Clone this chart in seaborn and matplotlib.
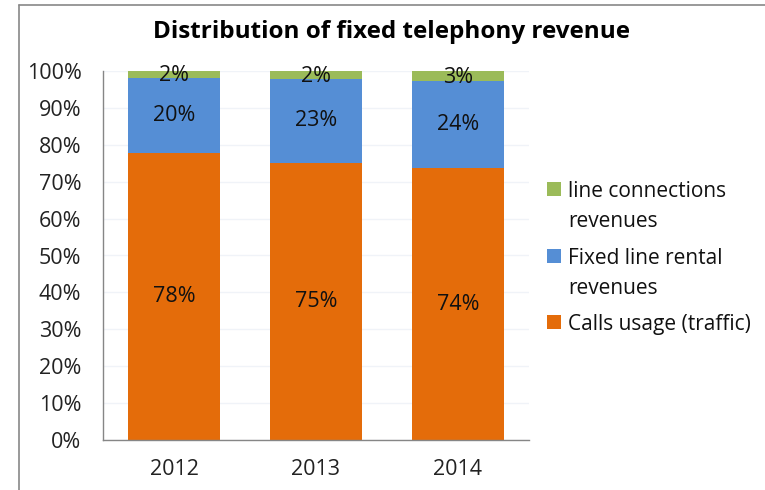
import matplotlib
matplotlib.use("Agg")
import matplotlib.pyplot as plt
import seaborn as sns
import pandas as pd
import numpy as np
from matplotlib.lines import Line2D
from matplotlib.patches import Rectangle
from matplotlib.ticker import PercentFormatter

years = ["2012", "2013", "2014"]
calls_usage = [77.9, 75.2, 73.7]
line_rental = [20.3, 22.6, 23.6]
line_connections = [1.8, 2.2, 2.7]
series_names = ["Calls usage (traffic)", "Fixed line rental\nrevenues", "line connections\nrevenues"]
colors = ["#E46C0A", "#558ED5", "#9BBB59"]

sns.set_theme(style="white")
plt.rcParams['font.family'] = ['Open Sans', 'DejaVu Sans']

fig = plt.figure(figsize=(7.65, 4.9), dpi=100)
ax = fig.add_axes([103/765, 50/490, 426/765, 369/490])

df = pd.DataFrame({"year": years, "calls": calls_usage, "rental": line_rental, "conn": line_connections})
series = [df["calls"].values, df["rental"].values, df["conn"].values]

# stacked bars: draw cumulative totals with seaborn, tallest first
cum = np.cumsum(np.vstack(series), axis=0)
for k in range(len(series) - 1, -1, -1):
    sns.barplot(x=df["year"], y=cum[k], color=colors[k], width=0.65, linewidth=0,
                saturation=1, ax=ax, zorder=3 + (len(series) - k))

bottom = np.zeros(len(years))
for vals in series:
    for i, (v, b) in enumerate(zip(vals, bottom)):
        y = b + v / 2
        if v < 5:
            y = b + v / 2 - 0.4
        ax.text(i, y, f"{int(round(v))}%", ha="center", va="center", fontsize=15.5,
                color="#111111", zorder=10)
    bottom = bottom + vals

ax.set_xlim(-0.5, 2.5)
ax.set_ylim(0, 100)
ax.set_yticks(np.arange(0, 101, 10))
ax.yaxis.set_major_formatter(PercentFormatter(decimals=0))
ax.set_xlabel("")
ax.set_ylabel("")
ax.tick_params(axis="both", labelsize=15.5, colors="#222222", length=0)
ax.tick_params(axis="x", pad=14)
ax.tick_params(axis="y", pad=15.5)
ax.grid(axis="y", color="#F0F3F8", linewidth=1, zorder=0)
ax.set_axisbelow(True)
for s in ["top", "right"]:
    ax.spines[s].set_visible(False)
for s in ["left", "bottom"]:
    ax.spines[s].set_color("#868686")
    ax.spines[s].set_linewidth(1)
    ax.spines[s].set_zorder(20)

fig.text(392/765, 1 - 32/490, "Distribution of fixed telephony revenue", ha="center", va="center",
         fontsize=17.5, fontweight="bold", color="#000000")

# legend (top entry = last series), marker aligned with first text line
legend_order = [2, 1, 0]
baselines = [[197, 227], [264, 294], [330]]
for k, bl in zip(legend_order, baselines):
    lines = series_names[k].split("\n")
    fig.add_artist(Rectangle((547/765, 1 - (bl[0] - 1)/490), 14/765, 14/490, transform=fig.transFigure,
                             facecolor=colors[k], edgecolor="none"))
    for line, b in zip(lines, bl):
        fig.text(568/765, 1 - b/490, line, ha="left", va="baseline", fontsize=15, color="#111111")

fig.add_artist(Line2D([19/765, 19/765], [0, 1 - 5/490], color="#888888", linewidth=1.2, transform=fig.transFigure))
fig.add_artist(Line2D([19/765, 1], [1 - 5/490, 1 - 5/490], color="#888888", linewidth=1.2, transform=fig.transFigure))

fig.savefig("out.png", dpi=100)
